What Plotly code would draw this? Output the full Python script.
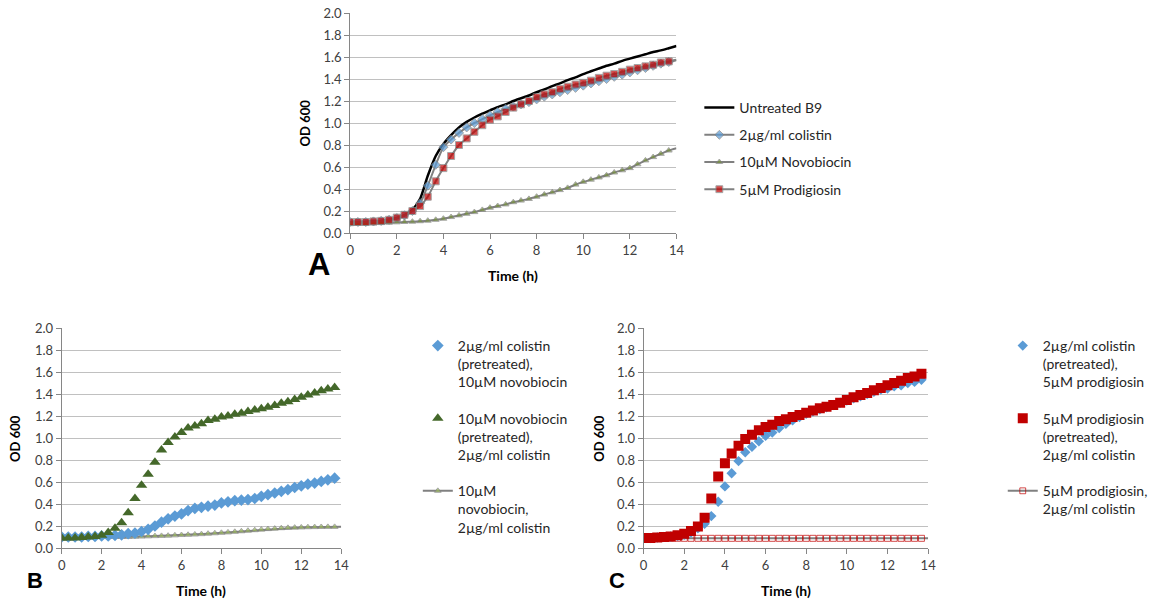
import plotly.graph_objects as go

W, H = 1153, 602

# ---------------- data ----------------
TIME = [0, 0.33, 0.67, 1.0, 1.33, 1.67, 2.0, 2.33, 2.67, 3.0, 3.33, 3.67, 4.0, 4.33,
        4.67, 5.0, 5.33, 5.67, 6.0, 6.33, 6.67, 7.0, 7.33, 7.67, 8.0, 8.33, 8.67, 9.0,
        9.33, 9.67, 10.0, 10.33, 10.67, 11.0, 11.33, 11.67, 12.0, 12.33, 12.67, 13.0,
        13.33, 13.67]
TIME_END = TIME + [14.0]

# Panel A (line series, last point at 14 h)
A_UNTREATED = [0.10, 0.10, 0.10, 0.105, 0.11, 0.12, 0.135, 0.16, 0.21, 0.31, 0.52, 0.70,
               0.81, 0.89, 0.96, 1.01, 1.05, 1.085, 1.115, 1.145, 1.17, 1.20, 1.225, 1.25,
               1.28, 1.305, 1.335, 1.36, 1.39, 1.415, 1.445, 1.47, 1.495, 1.52, 1.54, 1.565,
               1.585, 1.605, 1.625, 1.645, 1.66, 1.68, 1.70]
A_COLISTIN = [0.10, 0.10, 0.10, 0.105, 0.11, 0.12, 0.135, 0.16, 0.20, 0.27, 0.43, 0.62,
              0.78, 0.85, 0.91, 0.96, 1.00, 1.035, 1.07, 1.10, 1.13, 1.15, 1.17, 1.19,
              1.215, 1.24, 1.26, 1.28, 1.30, 1.32, 1.34, 1.36, 1.38, 1.40, 1.42, 1.44,
              1.46, 1.48, 1.50, 1.52, 1.54, 1.555, 1.57]
A_NOVOBIOCIN = [0.08, 0.082, 0.085, 0.088, 0.09, 0.093, 0.097, 0.10, 0.103, 0.107, 0.112,
                0.12, 0.13, 0.145, 0.16, 0.175, 0.19, 0.21, 0.23, 0.245, 0.26, 0.28, 0.295,
                0.31, 0.33, 0.35, 0.37, 0.39, 0.41, 0.44, 0.465, 0.485, 0.505, 0.525, 0.55,
                0.57, 0.59, 0.625, 0.66, 0.69, 0.72, 0.75, 0.77]
A_PRODIGIOSIN = [0.10, 0.10, 0.10, 0.105, 0.11, 0.12, 0.14, 0.165, 0.20, 0.245, 0.33, 0.47,
                 0.59, 0.70, 0.80, 0.86, 0.92, 0.98, 1.03, 1.06, 1.10, 1.14, 1.17, 1.20,
                 1.235, 1.26, 1.28, 1.31, 1.33, 1.35, 1.365, 1.385, 1.41, 1.43, 1.445, 1.465,
                 1.485, 1.50, 1.515, 1.53, 1.55, 1.56, 1.575]

# Panel B
B_COL_PRE = [0.10, 0.10, 0.10, 0.10, 0.105, 0.105, 0.11, 0.11, 0.115, 0.12, 0.13, 0.135,
             0.15, 0.17, 0.20, 0.235, 0.265, 0.29, 0.31, 0.34, 0.36, 0.37, 0.38, 0.39,
             0.41, 0.42, 0.43, 0.435, 0.44, 0.45, 0.47, 0.485, 0.50, 0.515, 0.53, 0.55,
             0.565, 0.58, 0.59, 0.605, 0.62, 0.635]
B_NOVO_PRE = [0.09, 0.09, 0.09, 0.095, 0.10, 0.105, 0.115, 0.14, 0.18, 0.23, 0.32, 0.45,
              0.57, 0.67, 0.78, 0.89, 0.96, 1.01, 1.05, 1.09, 1.11, 1.13, 1.16, 1.17,
              1.19, 1.20, 1.215, 1.225, 1.24, 1.255, 1.265, 1.28, 1.295, 1.315, 1.33, 1.35,
              1.37, 1.39, 1.41, 1.43, 1.445, 1.46]
B_COMBINED = [0.085, 0.088, 0.09, 0.092, 0.095, 0.097, 0.10, 0.10, 0.10, 0.10, 0.10, 0.102,
              0.104, 0.106, 0.108, 0.11, 0.112, 0.115, 0.118, 0.12, 0.123, 0.126, 0.13,
              0.134, 0.138, 0.142, 0.147, 0.152, 0.157, 0.162, 0.167, 0.172, 0.176, 0.18,
              0.183, 0.185, 0.187, 0.189, 0.19, 0.191, 0.192, 0.192, 0.193]

# Panel C
C_COL_PRE = [0.09, 0.09, 0.095, 0.10, 0.105, 0.11, 0.12, 0.14, 0.18, 0.22, 0.29, 0.42,
             0.56, 0.68, 0.79, 0.87, 0.92, 0.97, 1.02, 1.05, 1.09, 1.13, 1.16, 1.19,
             1.22, 1.24, 1.26, 1.28, 1.30, 1.32, 1.34, 1.36, 1.38, 1.40, 1.42, 1.44,
             1.45, 1.47, 1.48, 1.50, 1.51, 1.53]
C_PROD_PRE = [0.09, 0.09, 0.095, 0.10, 0.105, 0.115, 0.13, 0.155, 0.195, 0.275, 0.45, 0.65,
              0.77, 0.86, 0.93, 0.99, 1.03, 1.07, 1.10, 1.12, 1.155, 1.17, 1.19, 1.21,
              1.23, 1.25, 1.27, 1.285, 1.30, 1.32, 1.345, 1.37, 1.39, 1.41, 1.435, 1.455,
              1.48, 1.50, 1.52, 1.545, 1.56, 1.585]
C_COMBINED = [0.088] * 43

Y_TICKS = [0.0, 0.2, 0.4, 0.6, 0.8, 1.0, 1.2, 1.4, 1.6, 1.8, 2.0]
X_TICKS = [0, 2, 4, 6, 8, 10, 12, 14]

# ---------------- style ----------------
FONT = "Lato, 'Open Sans', sans-serif"
BLUE = "#5B9BD5"
RED = "#C00000"
GREEN_A = "#77933C"
GREEN_DARK = "#44682A"
GREEN_LIGHT = "#9BBB59"
GREY_LINE = "#808080"
AXIS = "#868686"
GRID = "#C0C0C0"


def px_x(px):
    return px / W


def px_y(py):
    return 1 - py / H


def sizes(n_markers, s):
    return [s] * n_markers + [0]


fig = go.Figure()

# Panel A
fig.add_trace(go.Scatter(x=TIME_END, y=A_UNTREATED, mode="lines", name="Untreated B9",
                         line=dict(color="black", width=2.5, shape="spline", smoothing=0.6),
                         xaxis="x", yaxis="y", legend="legend", legendgroup="a1"))
fig.add_trace(go.Scatter(x=TIME_END, y=A_COLISTIN, mode="lines+markers", name="2µg/ml colistin",
                         line=dict(color=GREY_LINE, width=2, shape="spline", smoothing=0.6),
                         marker=dict(symbol="diamond", color=BLUE, size=sizes(42, 7)),
                         xaxis="x", yaxis="y", legend="legend", legendgroup="a2"))
fig.add_trace(go.Scatter(x=TIME_END, y=A_NOVOBIOCIN, mode="lines+markers", name="10µM Novobiocin",
                         line=dict(color=GREY_LINE, width=2, shape="spline", smoothing=0.6),
                         marker=dict(symbol="triangle-up", color=GREEN_A, size=sizes(42, 6)),
                         xaxis="x", yaxis="y", legend="legend", legendgroup="a3"))
fig.add_trace(go.Scatter(x=TIME_END, y=A_PRODIGIOSIN, mode="lines+markers", name="5µM Prodigiosin",
                         line=dict(color=GREY_LINE, width=2, shape="spline", smoothing=0.6),
                         marker=dict(symbol="square", color=RED, size=sizes(42, 7)),
                         xaxis="x", yaxis="y", legend="legend", legendgroup="a4"))

# Panel B
fig.add_trace(go.Scatter(x=TIME_END, y=B_COMBINED, mode="lines+markers",
                         name="10µM<br>novobiocin,<br>2µg/ml colistin",
                         line=dict(color=GREY_LINE, width=2),
                         marker=dict(symbol="triangle-up", color=GREEN_LIGHT, size=sizes(42, 6)),
                         xaxis="x2", yaxis="y2", legend="legend2", legendgroup="b3",
                         legendrank=3))
fig.add_trace(go.Scatter(x=TIME, y=B_COL_PRE, mode="markers",
                         name="2µg/ml colistin<br>(pretreated),<br>10µM novobiocin",
                         marker=dict(symbol="diamond", color=BLUE, size=9),
                         xaxis="x2", yaxis="y2", legend="legend2", legendgroup="b1",
                         legendrank=1))
fig.add_trace(go.Scatter(x=TIME, y=B_NOVO_PRE, mode="markers",
                         name="10µM novobiocin<br>(pretreated),<br>2µg/ml colistin",
                         marker=dict(symbol="triangle-up", color=GREEN_DARK, size=10),
                         xaxis="x2", yaxis="y2", legend="legend2", legendgroup="b2",
                         legendrank=2))

# Panel C
fig.add_trace(go.Scatter(x=TIME_END, y=C_COMBINED, mode="lines+markers",
                         name="5µM prodigiosin,<br>2µg/ml colistin",
                         line=dict(color=GREY_LINE, width=2),
                         marker=dict(symbol="square-open", color=RED, size=sizes(42, 6),
                                     line=dict(width=1)),
                         xaxis="x3", yaxis="y3", legend="legend3", legendgroup="c3",
                         legendrank=3))
fig.add_trace(go.Scatter(x=TIME, y=C_COL_PRE, mode="markers",
                         name="2µg/ml colistin<br>(pretreated),<br>5µM prodigiosin",
                         marker=dict(symbol="diamond", color=BLUE, size=8),
                         xaxis="x3", yaxis="y3", legend="legend3", legendgroup="c1",
                         legendrank=1))
fig.add_trace(go.Scatter(x=TIME, y=C_PROD_PRE, mode="markers",
                         name="5µM prodigiosin<br>(pretreated),<br>2µg/ml colistin",
                         marker=dict(symbol="square", color=RED, size=10),
                         xaxis="x3", yaxis="y3", legend="legend3", legendgroup="c2",
                         legendrank=2))

# ---------------- axes ----------------
domains = {
    "A": dict(x=[px_x(352), px_x(680)], y=[px_y(233), px_y(13)]),
    "B": dict(x=[px_x(62), px_x(343)], y=[px_y(548), px_y(328)]),
    "C": dict(x=[px_x(647), px_x(933)], y=[px_y(548), px_y(328)]),
}

xcommon = dict(range=[0, 14], tickvals=X_TICKS, ticks="outside", ticklen=5, tickcolor=AXIS,
               showline=True, linecolor=AXIS, linewidth=1, showgrid=False, zeroline=False,
               tickfont=dict(family=FONT, size=13, color="#404040"), automargin=False,
               fixedrange=True, ticklabeloverflow="allow")
ycommon = dict(range=[0, 2.0], tickvals=Y_TICKS, tickformat=".1f", ticks="outside", ticklen=5,
               tickcolor=AXIS, showline=True, linecolor=AXIS, linewidth=1, showgrid=True,
               gridcolor=GRID, gridwidth=1, zeroline=False,
               tickfont=dict(family=FONT, size=13, color="#404040"), automargin=False,
               fixedrange=True, ticklabeloverflow="allow")

fig.update_layout(
    xaxis=dict(domain=domains["A"]["x"], anchor="y", **xcommon),
    yaxis=dict(domain=domains["A"]["y"], anchor="x", **ycommon),
    xaxis2=dict(domain=domains["B"]["x"], anchor="y2", **xcommon),
    yaxis2=dict(domain=domains["B"]["y"], anchor="x2", **ycommon),
    xaxis3=dict(domain=domains["C"]["x"], anchor="y3", **xcommon),
    yaxis3=dict(domain=domains["C"]["y"], anchor="x3", **ycommon),
)

legend_font = dict(family=FONT, size=14, color="#262626")
fig.update_layout(
    legend=dict(x=px_x(703), y=px_y(92), xanchor="left", yanchor="top",
                font=legend_font, bgcolor="rgba(0,0,0,0)", traceorder="grouped",
                tracegroupgap=6, valign="middle"),
    legend2=dict(x=px_x(420), y=px_y(330), xanchor="left", yanchor="top",
                 font=legend_font, bgcolor="rgba(0,0,0,0)", traceorder="grouped",
                 tracegroupgap=15, valign="top"),
    legend3=dict(x=px_x(1008), y=px_y(330), xanchor="left", yanchor="top",
                 font=legend_font, bgcolor="rgba(0,0,0,0)", traceorder="grouped",
                 tracegroupgap=15, valign="top"),
)

# ---------------- text ----------------
annotations = []


def note(text, x, y, size, bold=True, angle=0, family=FONT):
    annotations.append(dict(text=f"<b>{text}</b>" if bold else text, x=px_x(x), y=px_y(y),
                            xref="paper", yref="paper", xanchor="center", yanchor="middle",
                            showarrow=False, textangle=angle,
                            font=dict(family=family, size=size, color="black")))


note("Time (h)", 516, 275, 14)
note("Time (h)", 202, 590, 14)
note("Time (h)", 790, 590, 14)
note("OD 600", 307, 123, 13, angle=-90)
note("OD 600", 15, 438, 13, angle=-90)
note("OD 600", 602, 438, 13, angle=-90)
note("A", 321, 264, 31, family="Liberation Sans, Arial, sans-serif")
note("B", 35, 580, 22, family="Liberation Sans, Arial, sans-serif")
note("C", 620, 580, 22, family="Liberation Sans, Arial, sans-serif")

fig.update_layout(
    annotations=annotations,
    width=W, height=H,
    margin=dict(l=0, r=0, t=0, b=0),
    paper_bgcolor="white", plot_bgcolor="white",
    showlegend=True,
)

fig.write_html("out.html", include_plotlyjs=True, config={"displayModeBar": False},
               post_script="document.body.style.margin='0px';document.body.style.overflow='hidden';")
